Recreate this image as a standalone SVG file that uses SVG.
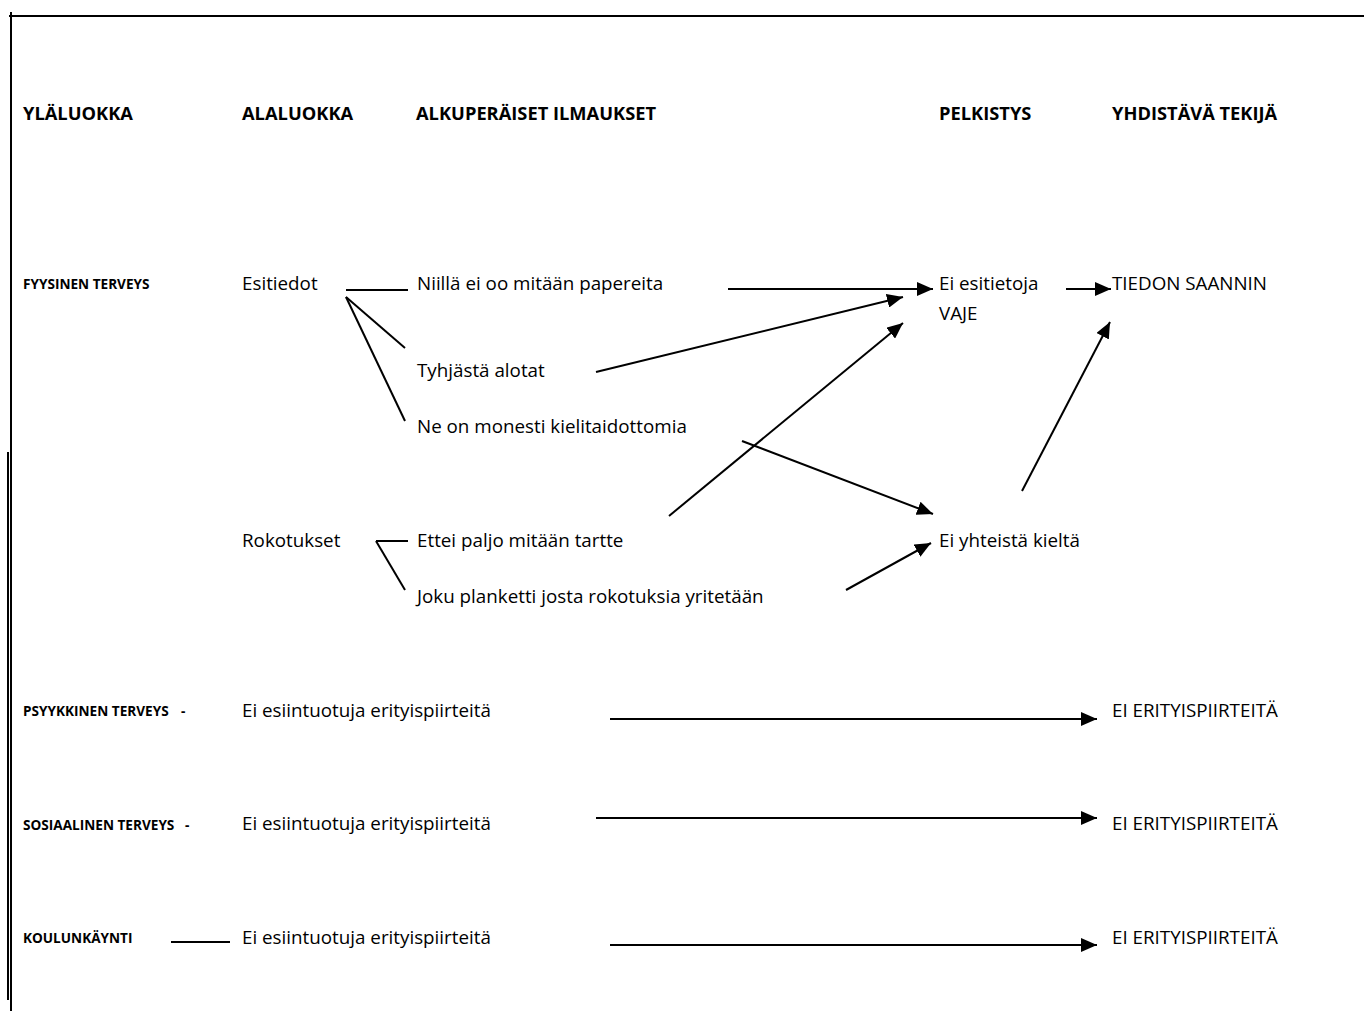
<svg xmlns="http://www.w3.org/2000/svg" width="1364" height="1011" viewBox="0 0 1364 1011">
<style>
  text { font-family: "Open Sans", "Liberation Sans", sans-serif; fill: #000; }
  .h { font-size: 18.3px; font-weight: bold; }
  .s { font-size: 13.6px; font-weight: bold; }
  .t { font-size: 18.8px; }
  .ln { stroke: #000; stroke-width: 2; fill: none; }
  .ar { stroke: #000; stroke-width: 2; fill: none; marker-end: url(#ah); }
</style>
<defs>
  <marker id="ah" markerUnits="userSpaceOnUse" markerWidth="16" markerHeight="14" viewBox="0 0 16 14" refX="16" refY="7" orient="auto">
    <path d="M0,0 L16,7 L0,14 Z" fill="#000"/>
  </marker>
</defs>
<rect width="1364" height="1011" fill="#fff"/>

<g id="frame">
  <line class="ln" x1="9" y1="16" x2="1364" y2="16"/>
  <line class="ln" x1="11" y1="12" x2="11" y2="1011"/>
  <line class="ln" x1="8" y1="452" x2="8" y2="1000"/>
</g>

<g id="headers">
  <text class="h" x="23" y="120">YLÄLUOKKA</text>
  <text class="h" x="242" y="120">ALALUOKKA</text>
  <text class="h" x="416" y="120">ALKUPERÄISET ILMAUKSET</text>
  <text class="h" x="939" y="120">PELKISTYS</text>
  <text class="h" x="1112" y="120">YHDISTÄVÄ TEKIJÄ</text>
</g>

<g id="fyysinen"><text class="s" x="23" y="289">FYYSINEN TERVEYS</text></g>
<g id="esitiedot"><text class="t" x="242" y="290">Esitiedot</text></g>
<g id="niilla"><text class="t" x="417" y="290">Niillä ei oo mitään papereita</text></g>
<g id="tyhjasta"><text class="t" x="417" y="377">Tyhjästä alotat</text></g>
<g id="neon"><text class="t" x="417" y="433">Ne on monesti kielitaidottomia</text></g>
<g id="rokotukset"><text class="t" x="242" y="547">Rokotukset</text></g>
<g id="ettei"><text class="t" x="417" y="547">Ettei paljo mitään tartte</text></g>
<g id="joku"><text class="t" x="417" y="603">Joku planketti josta rokotuksia yritetään</text></g>
<g id="eiesitietoja">
  <text class="t" x="939" y="290">Ei esitietoja</text>
  <text class="t" x="939" y="320">VAJE</text>
</g>
<g id="eiyhteista"><text class="t" x="939" y="547">Ei yhteistä kieltä</text></g>
<g id="tiedon"><text class="t" x="1112" y="290">TIEDON SAANNIN</text></g>

<g id="psyykkinen">
  <text class="s" x="23" y="716">PSYYKKINEN TERVEYS</text>
  <text class="s" x="181" y="716">-</text>
</g>
<g id="psy-ei"><text class="t" x="242" y="717">Ei esiintuotuja erityispiirteitä</text></g>
<g id="psy-erit"><text class="t" x="1112" y="717">EI ERITYISPIIRTEITÄ</text></g>

<g id="sosiaalinen">
  <text class="s" x="23" y="830">SOSIAALINEN TERVEYS</text>
  <text class="s" x="185" y="830">-</text>
</g>
<g id="sos-ei"><text class="t" x="242" y="830">Ei esiintuotuja erityispiirteitä</text></g>
<g id="sos-erit"><text class="t" x="1112" y="830">EI ERITYISPIIRTEITÄ</text></g>

<g id="koulunkaynti"><text class="s" x="23" y="943">KOULUNKÄYNTI</text></g>
<g id="kou-ei"><text class="t" x="242" y="944">Ei esiintuotuja erityispiirteitä</text></g>
<g id="kou-erit"><text class="t" x="1112" y="944">EI ERITYISPIIRTEITÄ</text></g>

<g id="connectors">
  <line class="ln" x1="346" y1="290" x2="408" y2="290"/>
  <line class="ln" x1="346" y1="297" x2="405" y2="348"/>
  <line class="ln" x1="346" y1="297" x2="405" y2="421"/>
  <line class="ln" x1="376" y1="541" x2="408" y2="541"/>
  <line class="ln" x1="376" y1="541" x2="405" y2="590"/>
  <line class="ln" x1="171" y1="942" x2="230" y2="942"/>

  <line class="ar" x1="728" y1="289" x2="933" y2="289"/>
  <line class="ar" x1="596" y1="372" x2="903" y2="297"/>
  <line class="ar" x1="669" y1="516" x2="903" y2="323"/>
  <line class="ar" x1="742" y1="441" x2="933" y2="514"/>
  <line class="ar" x1="846" y1="590" x2="931" y2="543"/>
  <line class="ar" x1="1066" y1="289" x2="1111" y2="289"/>
  <line class="ar" x1="1022" y1="491" x2="1110" y2="322"/>
  <line class="ar" x1="610" y1="719" x2="1097" y2="719"/>
  <line class="ar" x1="596" y1="818" x2="1097" y2="818"/>
  <line class="ar" x1="610" y1="945" x2="1097" y2="945"/>
</g>
</svg>
